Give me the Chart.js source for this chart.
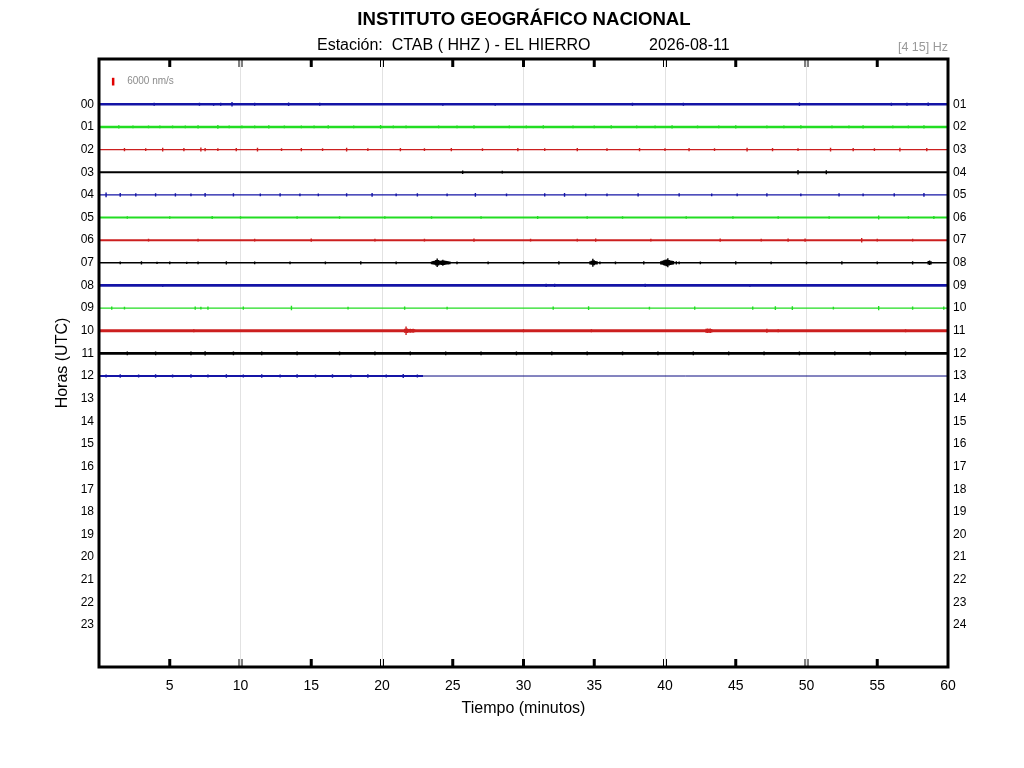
<!DOCTYPE html>
<html>
<head>
<meta charset="utf-8">
<title>CTAB helicorder</title>
<script src="https://cdn.jsdelivr.net/npm/chart.js@4.4.1/dist/chart.umd.min.js"></script>
<style>
  html, body { margin: 0; padding: 0; background: #fff; }
  #wrap { width: 1024px; height: 768px; }
</style>
</head>
<body>
<div id="wrap"><canvas id="heli" width="1024" height="768"></canvas></div>
<script>
// rows (hours) and their labels
const HOURS = [0, 1, 2, 3, 4, 5, 6, 7, 8, 9, 10, 11, 12, 13, 14, 15, 16, 17, 18, 19, 20, 21, 22, 23];
const LEFT_LABELS = ["00","01","02","03","04","05","06","07","08","09","10","11","12","13","14","15","16","17","18","19","20","21","22","23"];
const RIGHT_LABELS = ["01","02","03","04","05","06","07","08","09","10","11","12","13","14","15","16","17","18","19","20","21","22","23","24"];
const MINUTE_TICKS = [5, 10, 15, 20, 25, 30, 35, 40, 45, 50, 55, 60];

// minute where each recorded hour stops (hours 13-23 have no data yet)
const TRACE_END = [60, 60, 60, 60, 60, 60, 60, 60, 60, 60, 60, 60, 22.9];

// spikes: [minute, half amplitude in rows]
const h00 = [[3.9,.07],[7.1,.07],[8.1,.06],[8.6,.07],[9.4,.1],[11.0,.07],[13.4,.08],[15.6,.07],[24.3,.06],[28.0,.06],[37.7,.07],[41.3,.07],[49.5,.08],[56.0,.07],[57.1,.07],[58.6,.08]];
const h01 = [[1.4,.07],[2.4,.06],[3.5,.06],[4.3,.06],[5.2,.06],[6.1,.06],[7.0,.07],[8.4,.08],[9.2,.06],[10.1,.06],[11.0,.06],[12.0,.07],[13.1,.06],[14.3,.06],[15.2,.06],[16.2,.07],[18.0,.06],[19.9,.08],[20.8,.06],[21.7,.06],[24.0,.06],[25.3,.06],[26.5,.07],[29.0,.06],[30.2,.06],[31.4,.07],[33.5,.06],[35.0,.06],[36.2,.07],[38.0,.06],[39.3,.06],[40.5,.07],[42.3,.06],[43.8,.06],[45.0,.07],[47.2,.06],[48.4,.06],[49.6,.07],[51.8,.06],[53.0,.06],[54.0,.07],[56.1,.06],[57.2,.06],[58.3,.07]];
const h02 = [[1.8,.07],[3.3,.06],[4.5,.08],[6.0,.07],[7.2,.09],[7.5,.07],[8.4,.06],[9.7,.07],[11.2,.08],[12.9,.06],[14.3,.07],[15.8,.06],[17.5,.08],[19.0,.06],[21.3,.07],[23.0,.06],[24.9,.07],[27.1,.06],[29.6,.07],[31.5,.06],[33.8,.07],[35.9,.06],[38.2,.07],[40.0,.06],[41.7,.07],[43.5,.06],[45.8,.08],[47.6,.07],[49.4,.06],[51.7,.08],[53.3,.07],[54.8,.06],[56.6,.08],[58.5,.07]];
const h03 = [[25.7,.08],[28.5,.06],[49.4,.1],[51.4,.09]];
const h04 = [[0.5,.1],[1.5,.08],[2.6,.07],[4.0,.07],[5.4,.07],[6.5,.06],[7.5,.08],[9.5,.07],[11.4,.06],[12.8,.07],[14.2,.06],[15.5,.06],[17.5,.07],[19.3,.08],[21.0,.06],[22.5,.07],[24.6,.06],[26.6,.08],[28.8,.06],[31.5,.07],[32.9,.08],[34.4,.06],[35.9,.06],[38.1,.07],[41.0,.07],[43.3,.06],[45.1,.06],[47.2,.07],[49.6,.06],[52.3,.07],[54.0,.06],[56.2,.07],[58.3,.08]];
const h05 = [[2.0,.06],[5.0,.06],[8.0,.07],[10.0,.06],[14.0,.06],[17.0,.06],[20.2,.06],[23.5,.06],[27.0,.06],[31.0,.07],[34.5,.06],[37.0,.06],[41.5,.06],[44.8,.06],[48.0,.06],[51.6,.06],[55.1,.09],[57.2,.06],[59.0,.07]];
const h06 = [[3.5,.06],[7.0,.06],[11.0,.06],[15.0,.07],[19.5,.06],[23.0,.06],[26.5,.07],[30.5,.06],[33.8,.06],[35.1,.07],[39.0,.06],[43.9,.07],[46.8,.06],[48.7,.07],[49.9,.07],[53.9,.1],[55.0,.06],[57.5,.06]];
const h07 = [[1.5,.06],[3.0,.07],[4.1,.05],[5.0,.06],[6.2,.05],[7.0,.06],[9.0,.07],[11.0,.06],[13.5,.06],[16.0,.06],[18.5,.07],[21.0,.06],
  [23.5,.06],[23.6,.08],[23.7,.09],[23.8,.12],[23.9,.19],[24.0,.12],[24.1,.09],[24.2,.1],[24.3,.13],[24.4,.1],[24.5,.09],[24.6,.08],[24.7,.07],[24.8,.06],
  [25.3,.06],[27.5,.06],[30.0,.06],[32.5,.07],
  [34.7,.07],[34.8,.09],[34.9,.18],[35.0,.11],[35.1,.08],[35.2,.07],[35.4,.06],
  [36.5,.06],[38.5,.07],
  [39.7,.07],[39.8,.09],[39.9,.11],[40.0,.13],[40.1,.15],[40.2,.2],[40.3,.12],[40.4,.1],[40.5,.09],[40.6,.08],[40.8,.07],[41.0,.06],
  [42.5,.06],[45.0,.07],[47.5,.06],[50.0,.06],[52.5,.07],[55.0,.06],[57.5,.07],[58.6,.08],[58.7,.1],[58.8,.07]];
const h08 = [[4.5,.06],[31.6,.07],[32.2,.07],[38.6,.07],[46.0,.06]];
const h09 = [[0.9,.07],[1.8,.06],[6.8,.07],[7.2,.06],[7.7,.07],[10.2,.07],[13.6,.1],[17.6,.06],[21.6,.07],[24.6,.06],[32.1,.07],[34.6,.08],[38.9,.06],[42.1,.07],[46.2,.07],[47.8,.08],[49.0,.08],[51.9,.06],[55.1,.09],[57.5,.07],[59.7,.07]];
const h10 = [[6.7,.07],[21.6,.09],[21.7,.19],[21.8,.1],[21.9,.08],[22.0,.09],[22.1,.08],[22.2,.09],[22.3,.07],[30.0,.07],[34.8,.07],[42.9,.09],[43.0,.1],[43.1,.09],[43.2,.1],[43.3,.08],[47.2,.09],[48.0,.07],[57.0,.07]];
const h11 = [[2.0,.08],[4.0,.08],[6.5,.08],[7.5,.09],[9.5,.08],[11.5,.08],[14.0,.08],[17.0,.08],[19.5,.08],[22.0,.08],[24.5,.08],[27.0,.08],[29.5,.08],[32.0,.08],[34.5,.08],[37.0,.08],[39.5,.08],[42.0,.08],[44.5,.08],[47.0,.08],[49.5,.08],[52.0,.08],[54.5,.08],[57.0,.08]];
const h12 = [[0.5,.07],[1.5,.08],[2.8,.07],[4.0,.08],[5.2,.07],[6.5,.08],[7.7,.07],[9.0,.08],[10.2,.07],[11.5,.08],[12.8,.07],[14.0,.08],[15.3,.07],[16.5,.08],[17.8,.07],[19.0,.08],[20.3,.07],[21.5,.09],[22.5,.07]];
const SPIKES = [h00, h01, h02, h03, h04, h05, h06, h07, h08, h09, h10, h11, h12];

// styles
const COLORS = ["#1414a6", "#22dd22", "#cc1f1f", "#000000"];
const WIDTHS = [2.5, 2.5, 1.2, 2, 1.2, 2, 2, 1.5, 2.8, 1.2, 2.8, 2.6, 2];
const FONT = "'Liberation Sans', Arial, Helvetica, sans-serif";

function spikePoints(hour) {
  const pts = [];
  SPIKES[hour].forEach(function (s) {
    pts.push({ x: s[0], y: hour - s[1] });
    pts.push({ x: s[0], y: hour + s[1] });
    pts.push({ x: s[0], y: null });
  });
  return pts;
}

const datasets = [];
for (let h = 0; h < SPIKES.length; h++) {
  datasets.push({
    data: [{ x: 0, y: h }, { x: TRACE_END[h], y: h }],
    borderColor: COLORS[h % 4],
    borderWidth: WIDTHS[h],
    showLine: true,
    pointRadius: 0
  });
  datasets.push({
    data: spikePoints(h),
    borderColor: COLORS[h % 4],
    borderWidth: 1.4,
    showLine: true,
    spanGaps: false,
    pointRadius: 0
  });
}
// the last recorded hour continues as a flat thin line
datasets.push({
  data: [{ x: TRACE_END[12], y: 12 }, { x: 60, y: 12 }],
  borderColor: "#0a0a80",
  borderWidth: 1,
  showLine: true,
  pointRadius: 0
});

const decorations = {
  id: "decorations",
  afterDraw(chart) {
    const ctx = chart.ctx;
    const a = chart.chartArea;
    const xs = chart.scales.x;
    const ys = chart.scales.y;
    ctx.save();

    // inner ticks every 5 minutes
    ctx.strokeStyle = "#000";
    MINUTE_TICKS.forEach(function (m) {
      if (m >= 60) return;
      const px = xs.getPixelForValue(m);
      if (m % 10 === 0 && m !== 30) {
        ctx.lineWidth = 1;
        [px - 1.5, px + 1.5].forEach(function (p) {
          ctx.beginPath();
          ctx.moveTo(p, a.top); ctx.lineTo(p, a.top + 8);
          ctx.moveTo(p, a.bottom); ctx.lineTo(p, a.bottom - 8);
          ctx.stroke();
        });
      } else {
        ctx.lineWidth = 3;
        ctx.beginPath();
        ctx.moveTo(px, a.top); ctx.lineTo(px, a.top + 8);
        ctx.moveTo(px, a.bottom); ctx.lineTo(px, a.bottom - 8);
        ctx.stroke();
      }
    });

    // frame
    ctx.lineWidth = 3;
    ctx.strokeRect(a.left, a.top, a.right - a.left, a.bottom - a.top);

    // amplitude scale bar
    const bx = xs.getPixelForValue(1);
    ctx.strokeStyle = "#e00000";
    ctx.lineWidth = 2.5;
    ctx.beginPath();
    ctx.moveTo(bx, ys.getPixelForValue(-1.17));
    ctx.lineTo(bx, ys.getPixelForValue(-0.83));
    ctx.stroke();
    ctx.fillStyle = "#8c8c8c";
    ctx.font = "10px " + FONT;
    ctx.textAlign = "left";
    ctx.textBaseline = "middle";
    ctx.fillText("6000 nm/s", bx + 14, ys.getPixelForValue(-1));

    // titles
    ctx.fillStyle = "#000";
    ctx.font = "bold 18.6px " + FONT;
    ctx.textAlign = "center";
    ctx.fillText("INSTITUTO GEOGRÁFICO NACIONAL", 524, 20);
    ctx.font = "16px " + FONT;
    ctx.textAlign = "left";
    ctx.fillText("Estación:  CTAB ( HHZ ) - EL HIERRO", 317, 46);
    ctx.fillText("2026-08-11", 649, 46);
    ctx.fillStyle = "#999";
    ctx.font = "12.5px " + FONT;
    ctx.textAlign = "right";
    ctx.fillText("[4 15] Hz", a.right, 48);

    ctx.fillStyle = "#000";
    ctx.font = "16px " + FONT;
    ctx.textAlign = "center";
    ctx.fillText("Tiempo (minutos)", (a.left + a.right) / 2, 709);
    ctx.translate(63, (a.top + a.bottom) / 2);
    ctx.rotate(-Math.PI / 2);
    ctx.fillText("Horas (UTC)", 0, 0);
    ctx.restore();
  }
};

function rowTicks(scale) {
  scale.ticks = HOURS.map(function (v) { return { value: v }; });
}

new Chart(document.getElementById("heli"), {
  type: "scatter",
  data: { datasets: datasets },
  options: {
    responsive: false,
    animation: false,
    devicePixelRatio: 1,
    layout: { padding: { top: 59, left: 0, right: 0, bottom: 0 } },
    plugins: { legend: { display: false }, tooltip: { enabled: false } },
    scales: {
      x: {
        type: "linear",
        position: "bottom",
        min: 0,
        max: 60,
        afterFit(s) { s.height = 101; },
        afterBuildTicks(s) { s.ticks = [0].concat(MINUTE_TICKS).map(function (v) { return { value: v }; }); },
        ticks: {
          autoSkip: false,
          maxRotation: 0,
          color: "#000",
          font: { family: FONT, size: 14 },
          padding: 11,
          callback(v) { return v === 0 ? "" : String(v); }
        },
        grid: {
          drawTicks: false,
          color(c) { const v = c.tick && c.tick.value; return (v % 10 === 0 && v > 0 && v < 60) ? "#e2e2e2" : "rgba(0,0,0,0)"; },
          lineWidth: 1
        },
        border: { display: false }
      },
      y: {
        type: "linear",
        position: "left",
        reverse: true,
        min: -2,
        max: 24.85,
        afterFit(s) { s.width = 99; },
        afterBuildTicks: rowTicks,
        ticks: {
          autoSkip: false,
          color: "#000",
          font: { family: FONT, size: 12 },
          padding: 5,
          callback(v, i) { return LEFT_LABELS[i]; }
        },
        grid: { display: false, drawTicks: false },
        border: { display: false }
      },
      y2: {
        type: "linear",
        position: "right",
        reverse: true,
        min: -2,
        max: 24.85,
        afterFit(s) { s.width = 76; },
        afterBuildTicks: rowTicks,
        ticks: {
          autoSkip: false,
          color: "#000",
          font: { family: FONT, size: 12 },
          padding: 5,
          callback(v, i) { return RIGHT_LABELS[i]; }
        },
        grid: { display: false, drawTicks: false },
        border: { display: false }
      }
    }
  },
  plugins: [decorations]
});
</script>
</body>
</html>
